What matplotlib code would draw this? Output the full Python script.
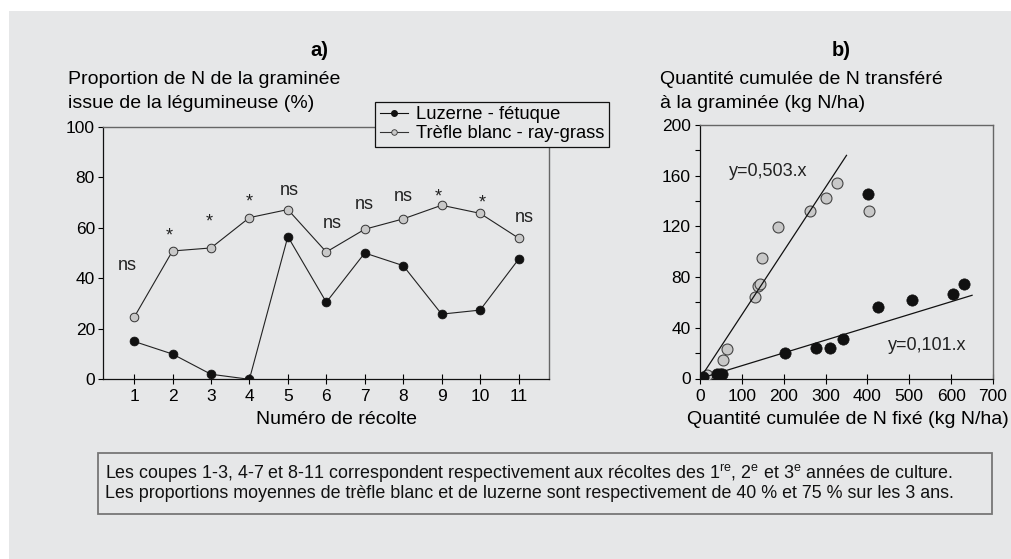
import matplotlib
matplotlib.use("Agg")
import matplotlib.pyplot as plt
from matplotlib.patches import Rectangle
from matplotlib.lines import Line2D
import numpy as np

plt.rcParams['font.family'] = ['Liberation Sans', 'DejaVu Sans']
plt.rcParams['mathtext.fontset'] = 'custom'
plt.rcParams['mathtext.rm'] = 'Liberation Sans'
plt.rcParams['mathtext.it'] = 'Liberation Sans'
plt.rcParams['mathtext.bf'] = 'Liberation Sans:bold'

# ---------------- data: panel a ----------------
harvests = [1, 2, 3, 4, 5, 6, 7, 8, 9, 10, 11]
luzerne = [15, 10, 2, 0, 56.5, 30.5, 50, 45, 25.8, 27.4, 47.5]
trefle = [24.5, 50.8, 52, 64, 67.2, 50.4, 59.4, 63.5, 68.9, 65.7, 55.9]
signif = ['ns', '*', '*', '*', 'ns', 'ns', 'ns', 'ns', '*', '*', 'ns']
signif_x = [0.82, 1.92, 2.95, 4.0, 5.05, 6.15, 7.0, 8.0, 8.9, 10.05, 11.16]
signif_y = [45.3, 59, 64.4, 72.3, 74.7, 62, 69.3, 72.7, 74.3, 71.9, 64.4]
yticks_a = [0, 20, 40, 60, 80, 100]

# ---------------- data: panel b ----------------
fix_luz = [8, 41, 47, 52, 204, 276, 311, 341, 402, 425, 507, 605, 630]
tr_luz = [1, 3.5, 3.5, 3.5, 19.8, 23.7, 23.7, 31.4, 145.7, 56.1, 61.9, 66.7, 74.3]
fix_tre = [17.5, 55.5, 65, 131, 139, 143, 148.4, 186.5, 263.5, 300.8, 327, 403]
tr_tre = [3, 14.5, 22.9, 64.3, 73, 74.5, 94.9, 119.9, 132.5, 142.3, 153.9, 132.3]
slopes = [0.503, 0.101]
slope_xmax = [350, 650]
slope_labels = ['y=0,503.x', 'y=0,101.x']
xticks_b = [0, 100, 200, 300, 400, 500, 600, 700]
yticks_b = [0, 40, 80, 120, 160, 200]

BG = '#e6e7e8'
W, H = 1012, 559

fig = plt.figure(figsize=(W / 100, H / 100), dpi=100)
fig.patch.set_facecolor('white')
fig.patches.append(Rectangle((9 / W, 0), 1, 1 - 11 / H, transform=fig.transFigure,
                             facecolor=BG, edgecolor='none', zorder=-10))


def fx(px):
    return px / W


def fy(py):
    return 1 - py / H


def ax_rect(l, t, r, b):
    return [fx(l), fy(b), (r - l) / W, (b - t) / H]


TICK = 12.5
LAB = 14

# ---------------- panel a ----------------
axa = fig.add_axes(ax_rect(103.3, 126.7, 549.3, 379.3))
axa.set_facecolor('none')
axa.plot(harvests, trefle, '-', color='#222222', lw=0.8, marker='o', ms=6.2,
         mfc='#c8c8c8', mec='#333333', mew=0.7, zorder=3)
axa.plot(harvests, luzerne, '-', color='#222222', lw=0.8, marker='o', ms=6.4,
         mfc='#111111', mec='#111111', mew=0.5, zorder=4)
for s, xv, yv in zip(signif, signif_x, signif_y):
    off = -0.55 * 13 if s == '*' else -0.27 * 13
    axa.annotate(s, (xv, yv), xytext=(0, off), textcoords='offset points',
                 ha='center', va='baseline', fontsize=13, color='#222222')
axa.set_xlim(0.2, 11.8)
axa.set_ylim(0, 100)
axa.set_xticks(harvests)
axa.set_yticks(yticks_a)
axa.tick_params(axis='x', direction='inout', length=6.5, width=0.8, labelsize=TICK, pad=4.0)
axa.tick_params(axis='y', direction='out', length=3.6, width=0.8, labelsize=TICK, pad=2.4)
for sp in ['left', 'bottom']:
    axa.spines[sp].set_linewidth(0.9)
    axa.spines[sp].set_color('#111111')
for sp in ['top', 'right']:
    axa.spines[sp].set_linewidth(1.0)
    axa.spines[sp].set_color('#666666')

handles = [
    Line2D([], [], color='#111111', lw=0.8, marker='o', ms=4, mfc='#111111', mec='#111111'),
    Line2D([], [], color='#333333', lw=0.8, marker='o', ms=4, mfc='#c8c8c8', mec='#333333', mew=0.6),
]
leg = axa.legend(handles, ['Luzerne - fétuque', 'Trèfle blanc - ray-grass'],
                 loc='upper left', bbox_to_anchor=(fx(375), fy(101.7)),
                 bbox_transform=fig.transFigure, fontsize=13.2, frameon=True,
                 fancybox=False, framealpha=1, facecolor=BG, edgecolor='#111111',
                 handlelength=1.55, handletextpad=0.45, labelspacing=0.12,
                 borderpad=0.25, borderaxespad=0)
leg.get_frame().set_linewidth(0.9)
leg.set_zorder(10)

fig.text(fx(319), fy(51), 'a)', ha='center', va='center', fontsize=14.5, fontweight='bold')
fig.text(fx(68), fy(80), 'Proportion de N de la graminée', ha='left', va='center', fontsize=LAB)
fig.text(fx(68), fy(103.3), 'issue de la légumineuse (%)', ha='left', va='center', fontsize=LAB)
fig.text(fx(336), fy(420), 'Numéro de récolte', ha='center', va='center', fontsize=LAB)

# ---------------- panel b ----------------
axb = fig.add_axes(ax_rect(700, 125, 993, 378.5))
axb.set_facecolor('none')
axb.scatter(fix_tre, tr_tre, s=62, facecolor='#c8c8c8', edgecolor='#444444', linewidth=0.8, zorder=3)
axb.scatter(fix_luz, tr_luz, s=66, facecolor='#111111', edgecolor='#111111', linewidth=0.5, zorder=4)
for k, xm in zip(slopes, slope_xmax):
    xs = np.array([0, xm])
    axb.plot(xs, k * xs, color='#111111', lw=0.9, zorder=5)
axb.text(68, 163, slope_labels[0], ha='left', va='center', fontsize=13, color='#222222')
axb.text(449, 26.3, slope_labels[1], ha='left', va='center', fontsize=13, color='#222222')
axb.set_xlim(0, 700)
axb.set_ylim(0, 200)
axb.set_xticks(xticks_b)
axb.set_yticks(yticks_b)
axb.set_yticks(np.arange(20, 200, 40), minor=True)
axb.tick_params(axis='x', direction='inout', length=6.5, width=0.8, labelsize=TICK, pad=4.0)
axb.tick_params(axis='y', which='both', direction='out', length=3.6, width=0.8, labelsize=TICK, pad=3.0)
for sp in ['left', 'bottom']:
    axb.spines[sp].set_linewidth(0.9)
    axb.spines[sp].set_color('#111111')
for sp in ['top', 'right']:
    axb.spines[sp].set_linewidth(1.0)
    axb.spines[sp].set_color('#666666')

fig.text(fx(841), fy(51), 'b)', ha='center', va='center', fontsize=14.5, fontweight='bold')
fig.text(fx(660), fy(80), 'Quantité cumulée de N transféré', ha='left', va='center', fontsize=LAB)
fig.text(fx(660), fy(103.3), 'à la graminée (kg N/ha)', ha='left', va='center', fontsize=LAB)
fig.text(fx(848), fy(420), 'Quantité cumulée de N fixé (kg N/ha)', ha='center', va='center', fontsize=LAB)

# ---------------- footer ----------------
fig.patches.append(Rectangle((fx(98.3), fy(513.5)), (992 - 98.3) / W, (513.5 - 453.3) / H,
                             transform=fig.transFigure, facecolor='none',
                             edgecolor='#777777', linewidth=1.3, zorder=2))
fig.text(fx(105), fy(473.5),
         r'Les coupes 1-3, 4-7 et 8-11 correspondent respectivement aux récoltes des 1$^{\mathrm{re}}$, 2$^{\mathrm{e}}$ et 3$^{\mathrm{e}}$ années de culture.',
         ha='left', va='center', fontsize=12.9, color='#111111')
fig.text(fx(105), fy(493.5),
         'Les proportions moyennes de trèfle blanc et de luzerne sont respectivement de 40 % et 75 % sur les 3 ans.',
         ha='left', va='center', fontsize=12.9, color='#111111')

fig.savefig('out.png', dpi=100, facecolor=fig.get_facecolor())
